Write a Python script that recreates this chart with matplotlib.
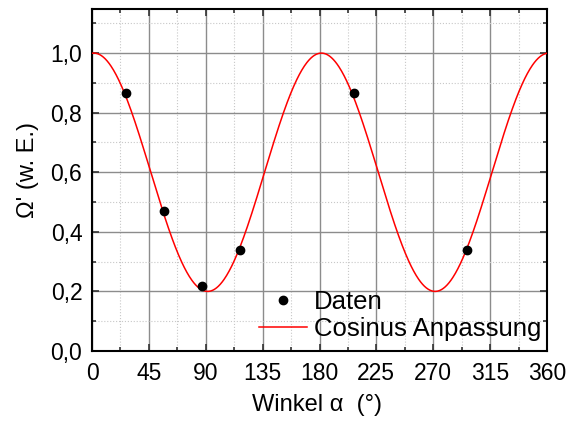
import numpy as np
import matplotlib.pyplot as plt
from matplotlib.ticker import MultipleLocator, FuncFormatter

plt.rcParams['font.family'] = ['Liberation Sans', 'DejaVu Sans']

# Messdaten
winkel = [27, 57, 87, 117, 207, 297]
omega = [0.866, 0.471, 0.219, 0.340, 0.866, 0.340]

# Parameter der Cosinus-Anpassung
offset = 0.6
amplitude = 0.4
phase = 1.5

x_fit = np.linspace(0, 360, 721)
y_fit = offset + amplitude * np.cos(np.deg2rad(2 * (x_fit - phase)))

fig = plt.figure(figsize=(5.67, 4.21), dpi=100)
ax = fig.add_axes([0.1623, 0.1663, 0.8024, 0.8123])

ax.plot(winkel, omega, 'o', color='black', ms=6, label='Daten', zorder=4)
ax.plot(x_fit, y_fit, color='red', lw=1.1, label='Cosinus Anpassung', zorder=3)

ax.set_xlim(0, 360)
ax.set_ylim(0, 1.148)
ax.xaxis.set_major_locator(MultipleLocator(45))
ax.xaxis.set_minor_locator(MultipleLocator(22.5))
ax.yaxis.set_major_locator(MultipleLocator(0.2))
ax.yaxis.set_minor_locator(MultipleLocator(0.1))
ax.yaxis.set_major_formatter(FuncFormatter(lambda v, p: f'{v:.1f}'.replace('.', ',')))

ax.grid(which='major', color='#8c8c8c', lw=1.0)
ax.grid(which='minor', color='#c8c8c8', lw=0.8, ls=':')
ax.set_axisbelow(True)

ax.tick_params(which='both', direction='in', top=True, right=True, labelsize=16.5, width=1.2, color='#333333')
ax.tick_params(which='major', length=5)
ax.tick_params(axis='x', which='major', pad=8)
ax.tick_params(axis='y', which='major', pad=7)
ax.tick_params(which='minor', length=3)
for s in ax.spines.values():
    s.set_linewidth(1.5)

ax.set_xlabel('Winkel α  (°)', fontsize=17)
ax.set_ylabel("Ω' (w. E.)", fontsize=17)
ax.xaxis.set_label_coords(0.495, -0.125)
ax.yaxis.set_label_coords(-0.117, 0.53)

ax.legend(loc='lower left', frameon=False, fontsize=18.5, handlelength=1.85,
          handletextpad=0.3, labelspacing=0.1, borderpad=0, borderaxespad=0,
          bbox_to_anchor=(0.367, 0.03))

fig.savefig('out.png', dpi=100)
